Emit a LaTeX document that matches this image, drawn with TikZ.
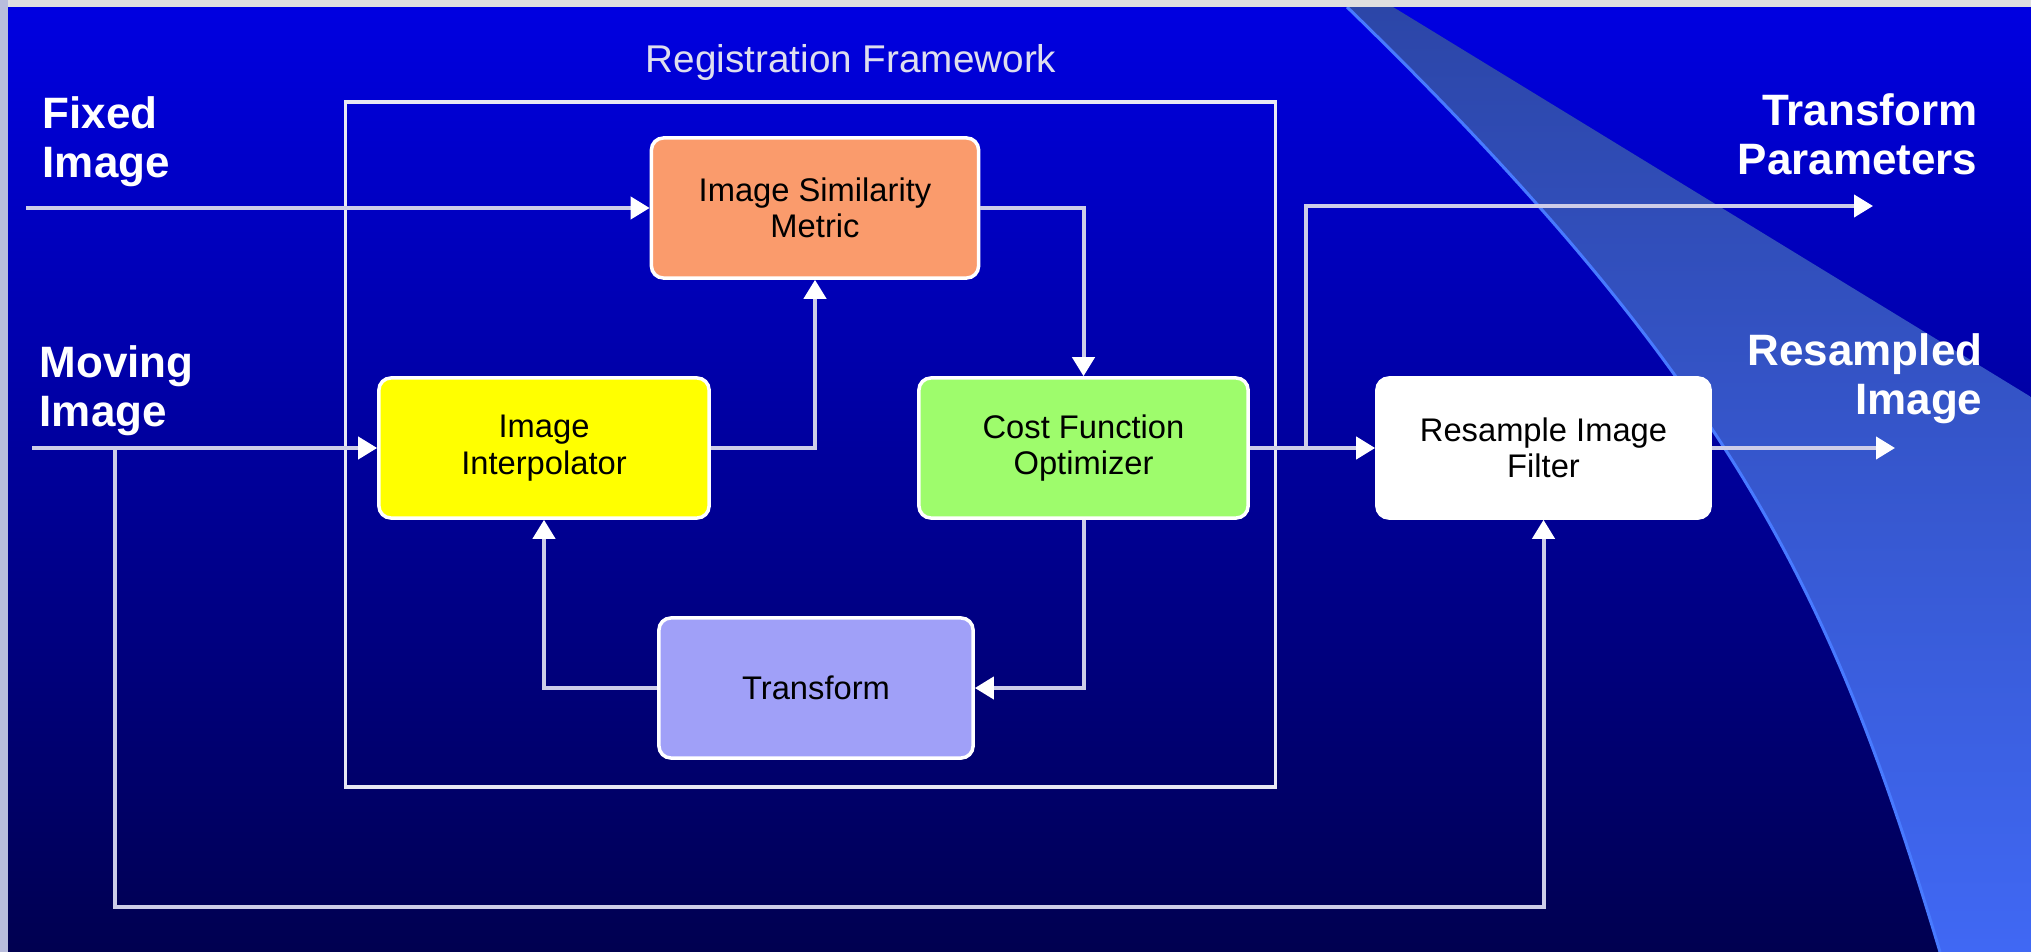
\documentclass[tikz,border=0pt]{standalone}
\usepackage{fontspec}
\setmainfont{Liberation Sans}
\usetikzlibrary{arrows.meta,positioning}

\definecolor{bgtop}{RGB}{0,0,226}
\definecolor{bgmid}{RGB}{0,0,165}
\definecolor{bgbot}{RGB}{0,0,80}
\definecolor{swtop}{RGB}{44,70,168}
\definecolor{swmid}{RGB}{58,96,226}
\definecolor{swbot}{RGB}{64,104,244}
\definecolor{swedge}{RGB}{72,122,255}
\definecolor{linecol}{RGB}{205,205,232}
\definecolor{framecol}{RGB}{232,232,244}
\definecolor{titlecol}{RGB}{222,222,238}
\definecolor{sidecol}{RGB}{184,188,220}
\definecolor{ismcol}{RGB}{250,155,108}
\definecolor{interpcol}{RGB}{255,255,0}
\definecolor{cfocol}{RGB}{158,252,108}
\definecolor{tfcol}{RGB}{160,160,248}

\begin{document}
\begin{tikzpicture}[x=0.01cm, y=-0.01cm,
  block/.style={draw=white, line width=0.035cm, rounded corners=0.12cm,
    minimum height=1.4cm, inner sep=0pt, align=center, text=black,
    font=\fontsize{9.3}{10.4}\selectfont},
  flow/.style={draw=linecol, line width=0.04cm,
    -{Triangle[length=0.19cm, width=0.22cm, color=white]}},
  io/.style={text=white, inner sep=0pt, font=\fontsize{12.5}{14}\selectfont\bfseries}]
  \useasboundingbox (0,0) rectangle (2031,952);
  \shade[top color=bgtop, middle color=bgmid, bottom color=bgbot] (0,0) rectangle (2031,952);
  \shade[top color=swtop, middle color=swmid, bottom color=swbot]
    (1347,7) .. controls (1738,387) and (1835,602) .. (1940,952)
    -- (2031,952) -- (2031,397) -- (1393,7) -- cycle;
  \draw[swedge, line width=0.03cm] (1347,7) .. controls (1738,387) and (1835,602) .. (1940,952);
  \fill[gray!25] (0,0) rectangle (2031,7);
  \fill[sidecol] (0,0) rectangle (8,952);

  \node[draw=framecol, line width=0.035cm, minimum width=9.29cm, minimum height=6.85cm] (frame) at (810.5,444.5) {};
  \node[anchor=base, text=titlecol, font=\fontsize{11}{13}\selectfont] (title) at (851,73) {Registration Framework};

  \node[block, fill=ismcol, minimum width=3.27cm] (ism) at (815,208) {Image Similarity\\Metric};
  \node[block, fill=interpcol, minimum width=3.30cm] (interp) at (544,448) {Image\\Interpolator};
  \node[block, fill=cfocol, minimum width=3.29cm] (cfo) at (1083.5,448) {Cost Function\\Optimizer};
  \node[block, fill=tfcol, minimum width=3.14cm] (tf) at (816,688) {Transform};
  \node[block, fill=white, minimum width=3.33cm] (rs) at (1543.5,448) {Resample Image\\Filter};

  \node[io, anchor=west, align=left] (fixedlbl) at (42,142) {Fixed\\Image};
  \node[io, anchor=west, align=left] (movinglbl) at (39,391) {Moving\\Image};
  \node[io, anchor=east, align=right] (tplbl) at (1978,134) {Transform\\Parameters};
  \node[io, anchor=east, align=right] (rslbl) at (1983,379) {Resampled\\Image};

  \coordinate (fixedin) at (26,208);
  \coordinate (movingin) at (32,448);
  \coordinate (fb) at (115,448);
  \coordinate (branch) at (1306,448);
  \coordinate (tpout) at (1873,206);
  \coordinate (rsout) at (1895,448);

  \draw[flow] (fixedin) -- (ism.west);
  \draw[flow] (movingin) -- (interp.west);
  \draw[flow] (interp.east) -| (ism.south);
  \draw[flow] (ism.east) -| (cfo.north);
  \draw[flow] (cfo.south) |- (tf.east);
  \draw[flow] (tf.west) -| (interp.south);
  \draw[flow] (cfo.east) -- (rs.west);
  \draw[flow] (branch) |- (tpout);
  \draw[flow] (rs.east) -- (rsout);
  \draw[flow] (fb) -- ++(0,459) -| (rs.south);
\end{tikzpicture}
\end{document}
